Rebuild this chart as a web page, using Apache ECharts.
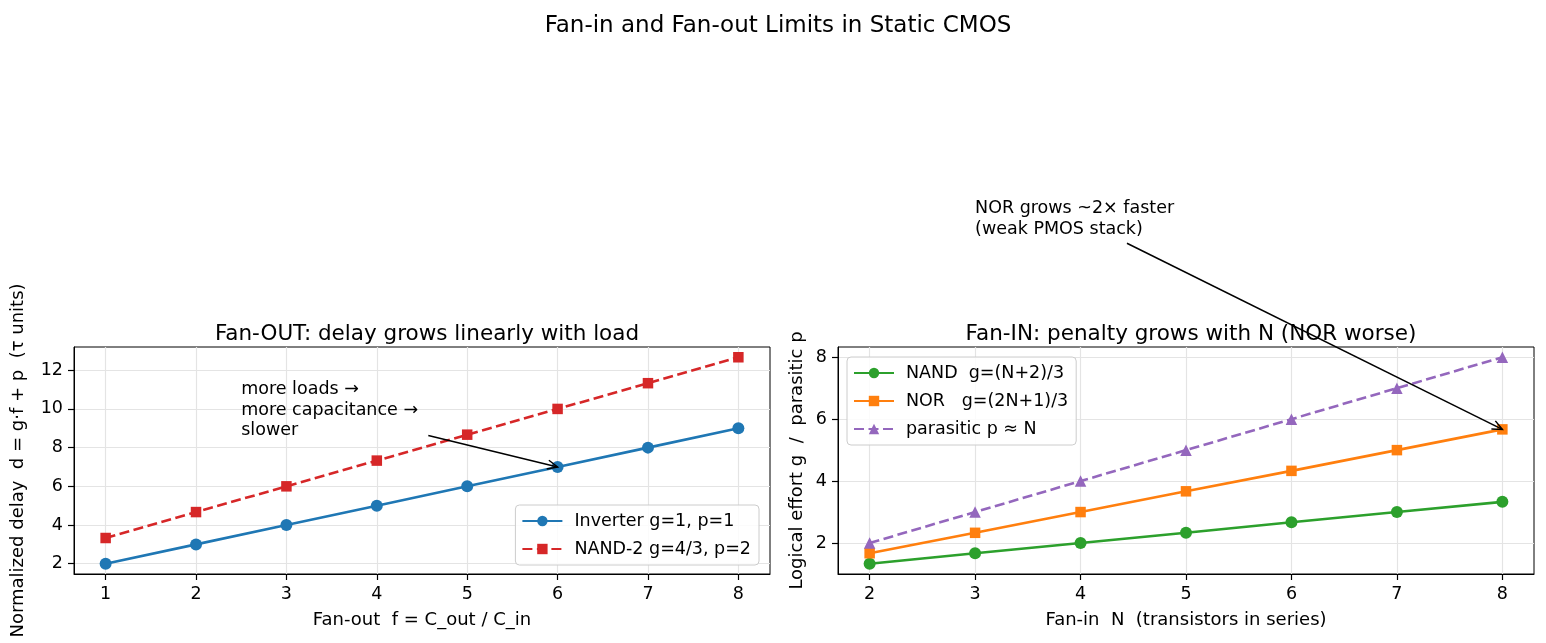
<!DOCTYPE html>
<html>
<head>
<meta charset="utf-8">
<script src="https://cdn.jsdelivr.net/npm/echarts@6/dist/echarts.min.js"></script>
<style>
  html, body { margin: 0; padding: 0; background: #fff; }
  #chart { width: 1546px; height: 643px; }
</style>
</head>
<body>
<div id="chart"></div>
<script>
// fan-out panel
const fanout = [1, 2, 3, 4, 5, 6, 7, 8];
const inverterDelay = [2, 3, 4, 5, 6, 7, 8, 9];
const nand2Delay = [3.33, 4.67, 6, 7.33, 8.67, 10, 11.33, 12.67];

// fan-in panel
const fanin = [2, 3, 4, 5, 6, 7, 8];
const nandEffort = [1.33, 1.67, 2, 2.33, 2.67, 3, 3.33];
const norEffort = [1.67, 2.33, 3, 3.67, 4.33, 5, 5.67];
const parasiticP = [2, 3, 4, 5, 6, 7, 8];

const leftXTicks = [1, 2, 3, 4, 5, 6, 7, 8];
const leftYTicks = [2, 4, 6, 8, 10, 12];
const rightXTicks = [2, 3, 4, 5, 6, 7, 8];
const rightYTicks = [2, 4, 6, 8];

const FONT = "DejaVu Sans";
const pairs = (xs, ys) => xs.map((x, i) => [x, ys[i]]);

const chart = echarts.init(document.getElementById("chart"));

function axis(gridIndex, min, max, ticks, splitNumber, name, gap, rotate) {
  return {
    type: "value",
    gridIndex: gridIndex,
    min: min,
    max: max,
    splitNumber: splitNumber,
    name: name,
    nameLocation: "middle",
    nameGap: gap,
    nameRotate: rotate,
    nameTextStyle: { fontFamily: FONT, fontSize: 18, color: "#000" },
    axisLine: { show: true, onZero: false, lineStyle: { color: "#000", width: 1 } },
    axisTick: { show: true, length: 6, customValues: ticks, lineStyle: { color: "#000", width: 1.2 } },
    axisLabel: { customValues: ticks, fontFamily: FONT, fontSize: 17.5, color: "#000", margin: 11 },
    splitLine: { show: true, lineStyle: { color: "#e4e4e4", width: 1.2 } }
  };
}

function lineSeries(name, xi, yi, data, color, symbol, size, dashed) {
  return {
    type: "line",
    name: name,
    xAxisIndex: xi,
    yAxisIndex: yi,
    data: data,
    symbol: symbol,
    symbolSize: size,
    showSymbol: true,
    animation: false,
    itemStyle: { color: color },
    lineStyle: { color: color, width: 2.6, type: dashed ? [10, 4.5] : "solid" }
  };
}

const legendCommon = {
  orient: "vertical",
  backgroundColor: "rgba(255,255,255,0.85)",
  borderColor: "#cccccc",
  borderWidth: 1,
  borderRadius: 4,
  padding: [7, 8, 7, 6],
  itemWidth: 40,
  itemHeight: 13,
  itemGap: 10,
  textStyle: { fontFamily: FONT, fontSize: 17.5, color: "#000", padding: [0, 0, 0, 7] }
};

chart.setOption({
  animation: false,
  title: [
    { text: "Fan-in and Fan-out Limits in Static CMOS", left: 773, top: 10, textAlign: "center",
      textStyle: { fontFamily: FONT, fontSize: 23, fontWeight: "normal", color: "#000" } },
    { text: "Fan-OUT: delay grows linearly with load", left: 422, top: 318, textAlign: "center",
      textStyle: { fontFamily: FONT, fontSize: 21.5, fontWeight: "normal", color: "#000" } },
    { text: "Fan-IN: penalty grows with N (NOR worse)", left: 1186, top: 318, textAlign: "center",
      textStyle: { fontFamily: FONT, fontSize: 21.5, fontWeight: "normal", color: "#000" } }
  ],
  grid: [
    { left: 74, right: 776, top: 347, bottom: 69, show: true, borderColor: "#000", borderWidth: 1, backgroundColor: "transparent" },
    { left: 838, right: 12, top: 347, bottom: 69, show: true, borderColor: "#000", borderWidth: 1, backgroundColor: "transparent" }
  ],
  xAxis: [
    axis(0, 0.65, 8.35, leftXTicks, 8, "Fan-out  f = C_out / C_in", 37, 0),
    axis(1, 1.7, 8.3, rightXTicks, 7, "Fan-in  N  (transistors in series)", 37, 0)
  ],
  yAxis: [
    axis(0, 1.47, 13.2, leftYTicks, 6, "Normalized delay  d = g\u00b7f + p  (\u03c4 units)", 47, 90),
    axis(1, 1.0, 8.33, rightYTicks, 4, "Logical effort g  /  parasitic p", 32, 90)
  ],
  legend: [
    Object.assign({}, legendCommon, {
      right: 787, bottom: 78,
      data: ["Inverter g=1, p=1", "NAND-2 g=4/3, p=2"]
    }),
    Object.assign({}, legendCommon, {
      left: 847, top: 357,
      data: ["NAND  g=(N+2)/3", "NOR   g=(2N+1)/3", "parasitic p \u2248 N"]
    })
  ],
  series: [
    lineSeries("Inverter g=1, p=1", 0, 0, pairs(fanout, inverterDelay), "#1f77b4", "circle", 12, false),
    lineSeries("NAND-2 g=4/3, p=2", 0, 0, pairs(fanout, nand2Delay), "#d62728", "rect", 10.5, true),
    lineSeries("NAND  g=(N+2)/3", 1, 1, pairs(fanin, nandEffort), "#2ca02c", "circle", 12, false),
    lineSeries("NOR   g=(2N+1)/3", 1, 1, pairs(fanin, norEffort), "#ff7f0e", "rect", 10.5, false),
    lineSeries("parasitic p \u2248 N", 1, 1, pairs(fanin, parasiticP), "#9467bd", "triangle", 11.5, true)
  ]
});

// annotations with arrows, placed in data coordinates
function arrow(gridIndex, from, to) {
  const p0 = chart.convertToPixel({ gridIndex: gridIndex }, from);
  const p1 = chart.convertToPixel({ gridIndex: gridIndex }, to);
  const ang = Math.atan2(p1[1] - p0[1], p1[0] - p0[0]);
  const L = 11, spread = 0.42;
  const h1 = [p1[0] - L * Math.cos(ang - spread), p1[1] - L * Math.sin(ang - spread)];
  const h2 = [p1[0] - L * Math.cos(ang + spread), p1[1] - L * Math.sin(ang + spread)];
  return [
    { type: "line", shape: { x1: p0[0], y1: p0[1], x2: p1[0], y2: p1[1] }, style: { stroke: "#000", lineWidth: 1.5 }, z: 100 },
    { type: "polyline", shape: { points: [h1, p1, h2] }, style: { stroke: "#000", lineWidth: 1.5, fill: null }, z: 100 }
  ];
}
function note(gridIndex, at, text) {
  const p = chart.convertToPixel({ gridIndex: gridIndex }, at);
  return {
    type: "text", x: p[0], y: p[1], z: 100,
    style: { text: text, fontFamily: FONT, fontSize: 17.5, fill: "#000", lineHeight: 20.5, align: "left", verticalAlign: "middle" }
  };
}

chart.setOption({
  graphic: [
    note(0, [2.5, 9.93], "more loads \u2192\nmore capacitance \u2192\nslower"),
    ...arrow(0, [4.57, 8.63], [6, 7]),
    note(1, [3.0, 12.47], "NOR grows ~2\u00d7 faster\n(weak PMOS stack)"),
    ...arrow(1, [4.44, 11.68], [8, 5.67])
  ]
});
</script>
</body>
</html>
